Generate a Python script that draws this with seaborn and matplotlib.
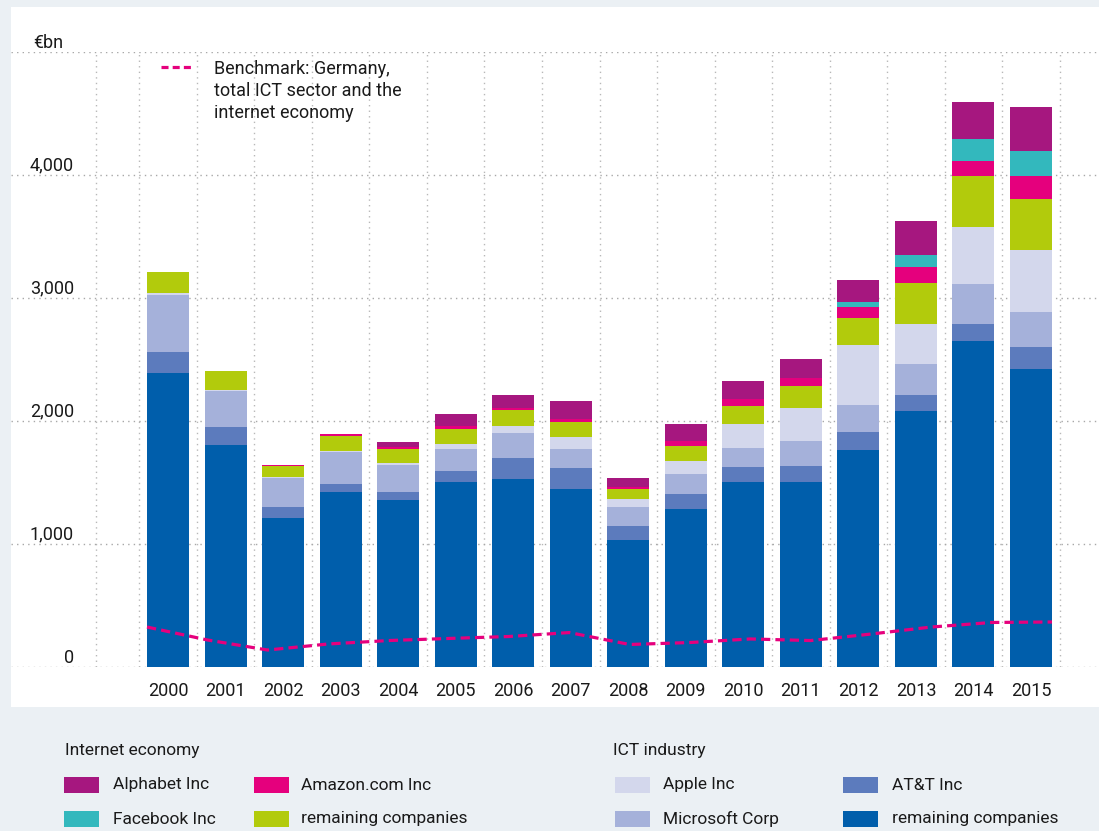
import numpy as np
import matplotlib
matplotlib.use('Agg')
import matplotlib.pyplot as plt
from matplotlib.patches import Rectangle
from matplotlib.lines import Line2D
import seaborn as sns

sns.set_style('white')
plt.rcParams['font.family'] = ['Roboto', 'DejaVu Sans']

# data, EUR bn
years = [str(y) for y in range(2000, 2016)]
ict_rest = [2390, 1805, 1211, 1423, 1358, 1504, 1528, 1447, 1033, 1285, 1504, 1504, 1764, 2081, 2650, 2423]
att = [171, 146, 89, 65, 65, 89, 171, 171, 114, 122, 122, 130, 146, 130, 138, 179]
microsoft = [463, 293, 236, 263, 220, 179, 203, 154, 154, 163, 154, 203, 220, 252, 325, 285]
apple = [16, 10, 11, 5, 16, 41, 57, 98, 65, 106, 195, 268, 488, 325, 463, 504]
internet_rest = [171, 152, 87, 120, 114, 122, 130, 122, 81, 122, 146, 179, 220, 333, 415, 415]
amazon = [0, 0, 8, 19, 19, 27, 16, 24, 14, 41, 54, 65, 89, 130, 122, 187]
facebook = [0, 0, 0, 0, 0, 0, 0, 0, 0, 0, 0, 0, 41, 98, 179, 203]
alphabet = [0, 0, 0, 0, 38, 95, 106, 146, 76, 138, 149, 154, 179, 276, 301, 358]
benchmark = [325, 220, 138, 187, 215, 232, 248, 280, 183, 199, 228, 215, 268, 325, 362, 366]

yticks = [0, 1000, 2000, 3000, 4000]
ytick_labels = ['0', '1,000', '2,000', '3,000', '4,000']

# stack order, bottom -> top
layers = [ict_rest, att, microsoft, apple, internet_rest, amazon, facebook, alphabet]
colors = ['#005EAB', '#5C7BBD', '#A5B1DA', '#D3D7EC', '#B2CB0C', '#E5007D', '#33B8BD', '#A6177F']

internet_names = ['Alphabet Inc', 'Amazon.com Inc', 'Facebook Inc', 'remaining companies']
internet_colors = ['#A6177F', '#E5007D', '#33B8BD', '#B2CB0C']
ict_names = ['Apple Inc', 'AT&T Inc', 'Microsoft Corp', 'remaining companies']
ict_colors = ['#D3D7EC', '#5C7BBD', '#A5B1DA', '#005EAB']

W, H = 1099, 831
PINK = '#E5007D'
GRID = '#A8A8A8'

fig = plt.figure(figsize=(W / 100, H / 100), dpi=100)
fig.patch.set_facecolor('#EBF0F4')
fig.patches.append(Rectangle((11 / W, 124 / H), 1 - 11 / W, 700 / H,
                             transform=fig.transFigure, facecolor='white',
                             edgecolor='none', zorder=-5))

ax = fig.add_axes([11 / W, 164 / H, 1088 / W, 615 / H])
ax.set_facecolor('none')

# overlay cumulative totals, tallest first
cum = np.cumsum(np.array(layers), axis=0)
for i in range(len(layers) - 1, -1, -1):
    sns.barplot(x=years, y=cum[i], color=colors[i], width=0.73, saturation=1,
                linewidth=0, errorbar=None, ax=ax, zorder=2)

ax.set_xlim(-0.5 - (168 - 11 - 0.5 * 57.53) / 57.53, 15 + (1099 - 1031) / 57.53)
ax.set_ylim(0, 5000)
ax.set_yticks(yticks + [5000])
ax.set_yticklabels([])
ax.set_xticks(range(len(years)))
ax.set_xticklabels(years)
ax.set_xticks(np.arange(-0.5, len(years), 1), minor=True)
ax.tick_params(axis='x', which='both', length=0, pad=11, labelsize=13, colors='#1a1a1a')
ax.tick_params(axis='y', length=0)
ax.grid(axis='y', color=GRID, linestyle=(0, (1, 3)), linewidth=1, zorder=0)
ax.grid(axis='x', which='minor', color='#B8B8B8', linestyle=(0, (1, 3)), linewidth=1, zorder=0)
ax.grid(axis='x', which='major', visible=False)
ax.axvline(-0.5 - (138 - 95) / 57.53, color='#B8B8B8', linestyle=(0, (1, 3)), linewidth=1, zorder=0)
ax.set_axisbelow(True)
sns.despine(ax=ax, left=True, bottom=True)
ax.set_xlabel('')
ax.set_ylabel('')

for v, lab in zip(yticks, ytick_labels):
    ax.annotate(lab, xy=((74 - 11) / 1088, v), xycoords=('axes fraction', 'data'),
                xytext=(0, 3), textcoords='offset points', ha='right', va='baseline',
                fontsize=13, color='#1a1a1a')
ax.annotate('€bn', xy=((33 - 11) / 1088, 5000), xycoords=('axes fraction', 'data'),
            xytext=(0, 3), textcoords='offset points', ha='left', va='baseline',
            fontsize=13, color='#1a1a1a')

# benchmark line spans bar edge to bar edge
ax2 = ax.twiny()
sns.lineplot(x=np.arange(len(benchmark)), y=benchmark, ax=ax2, color=PINK,
             linewidth=2.3, linestyle=(0, (2.9, 1.6)), zorder=5)
s = (1052 - 147) / 15
ax2.set_xlim(-(147 - 11) / s, 15 + (1099 - 1052) / s)
ax2.set_ylim(0, 5000)
ax2.set_xticks([])
ax2.set_xlabel('')
ax2.set_ylabel('')
for sp in ax2.spines.values():
    sp.set_visible(False)

fig.lines.append(Line2D([161 / W, 191 / W], [1 - 67 / H, 1 - 67 / H], transform=fig.transFigure,
                        color=PINK, linewidth=2.3, linestyle=(0, (2.2, 1.3))))
fig.text(214 / W, 1 - 60 / H, 'Benchmark: Germany,\ntotal ICT sector and the\ninternet economy',
         ha='left', va='top', fontsize=13, linespacing=1.3, color='#1a1a1a')

# bottom legend
def legend_group(title, x_title, names, cols, xs_box, xs_txt):
    fig.text(x_title / W, 1 - 750 / H, title, ha='left', va='center', fontsize=12.5, color='#1a1a1a')
    ys = [785, 785, 819, 819]
    for k, (nm, c) in enumerate(zip(names, cols)):
        col = k % 2
        fig.patches.append(Rectangle((xs_box[col] / W, 1 - (ys[k] + 8) / H), 35 / W, 16 / H,
                                     transform=fig.transFigure, facecolor=c, edgecolor='none'))
        fig.text(xs_txt[col] / W, 1 - ys[k] / H, nm, ha='left', va='center',
                 fontsize=12.5, color='#1a1a1a')

legend_group('Internet economy', 65, internet_names, internet_colors, [64, 254], [113, 301])
legend_group('ICT industry', 613, ict_names, ict_colors, [615, 843], [663, 892])

fig.savefig('out.png', dpi=100, facecolor=fig.get_facecolor())
